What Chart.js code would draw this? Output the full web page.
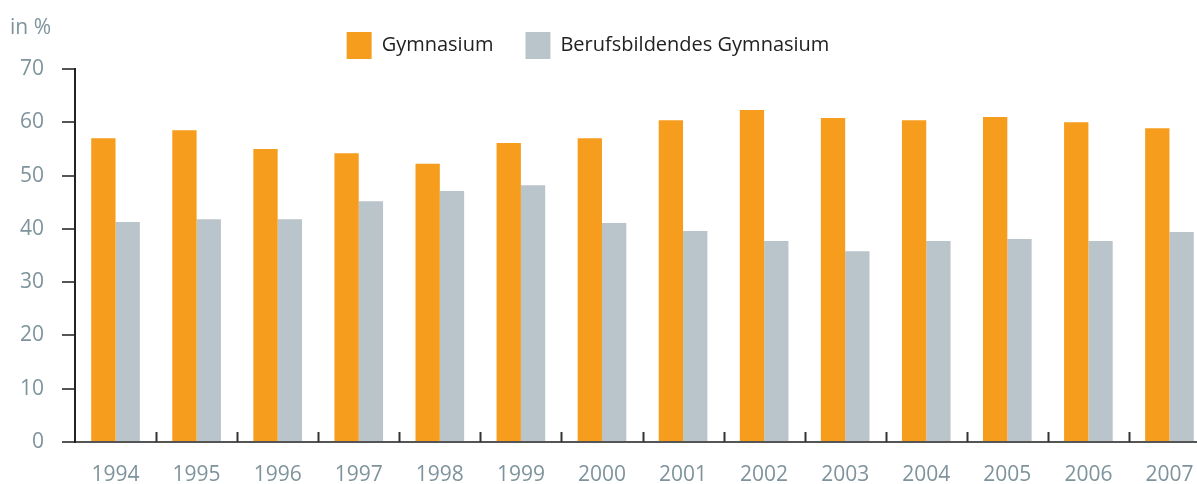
<!DOCTYPE html>
<html>
<head>
<meta charset="utf-8">
<script src="https://cdn.jsdelivr.net/npm/chart.js@4"></script>
<style>
    body { margin: 0; overflow: hidden; background: #fff; }
    #wrap { position: relative; width: 1210px; height: 484px; }
    #einheit { position: absolute; left: 10px; top: 12px; font: 21px "Open Sans", sans-serif; color: #7e939c; }
</style>
</head>
<body>
<div id="wrap">
    <div id="einheit">in %</div>
    <canvas id="grafico" width="1210" height="484"></canvas>
</div>
<script>
const jahre = ['1994', '1995', '1996', '1997', '1998', '1999', '2000', '2001', '2002', '2003', '2004', '2005', '2006', '2007'];
const gymnasium = [57.0, 58.5, 55.0, 54.2, 52.2, 56.1, 57.0, 60.4, 62.3, 60.8, 60.4, 61.0, 60.0, 58.9];
const berufsGymnasium = [41.3, 41.8, 41.8, 45.2, 47.1, 48.2, 41.1, 39.6, 37.7, 35.8, 37.7, 38.1, 37.7, 39.4];
const yTicks = [0, 10, 20, 30, 40, 50, 60, 70];

const corCinza = '#7e939c';

// kleine Striche zwischen den Jahren, nach oben
const strichePlugin = {
    id: 'striche',
    afterDatasetsDraw(chart) {
        const x = chart.scales.x;
        const ctx = chart.ctx;
        const unten = chart.chartArea.bottom;
        ctx.save();
        ctx.strokeStyle = '#333';
        ctx.lineWidth = 2;
        for (let i = 0; i < jahre.length - 1; i++) {
            let meio = (x.getPixelForValue(i) + x.getPixelForValue(i + 1)) / 2;
            ctx.beginPath();
            ctx.moveTo(Math.round(meio) + 0.5, unten - 10);
            ctx.lineTo(Math.round(meio) + 0.5, unten);
            ctx.stroke();
        }
        ctx.restore();
    }
};

// feste Hoehe fuer die Legende, etwas nach links geschoben
const legendeHoehe = {
    id: 'legendeHoehe',
    beforeLayout(chart) {
        if (chart.legend && !chart.legend._gepatcht) {
            const fitOriginal = chart.legend.fit;
            chart.legend.fit = function () {
                fitOriginal.call(this);
                this.height = 69;
            };
            chart.legend._gepatcht = true;
        }
    },
    afterLayout(chart) {
        if (chart.legend) {
            chart.legend.right = chart.legend.right - 34;
        }
    }
};

new Chart(document.getElementById('grafico'), {
    type: 'bar',
    data: {
        labels: jahre,
        datasets: [
            {
                label: 'Gymnasium',
                data: gymnasium,
                backgroundColor: '#f79d1e',
                categoryPercentage: 0.6,
                barPercentage: 1.0
            },
            {
                label: 'Berufsbildendes Gymnasium',
                data: berufsGymnasium,
                backgroundColor: '#bac5cb',
                categoryPercentage: 0.6,
                barPercentage: 1.0
            }
        ]
    },
    options: {
        responsive: false,
        animation: false,
        layout: { padding: 0 },
        plugins: {
            legend: {
                position: 'top',
                labels: {
                    boxWidth: 25,
                    boxHeight: 27,
                    padding: 32,
                    color: '#222',
                    font: { family: 'Open Sans', size: 20 }
                }
            },
            tooltip: { enabled: false }
        },
        scales: {
            x: {
                grid: { display: false },
                border: { display: true, color: '#555', width: 2 },
                ticks: {
                    color: corCinza,
                    padding: 12,
                    maxRotation: 0,
                    font: { family: 'Open Sans', size: 21 }
                },
                afterFit(scale) { scale.height = 42; }
            },
            y: {
                min: 0,
                max: 70,
                afterBuildTicks(scale) {
                    scale.ticks = yTicks.map(v => ({ value: v }));
                },
                grid: {
                    drawOnChartArea: false,
                    drawTicks: true,
                    tickLength: 13,
                    color: '#555',
                    lineWidth: 2
                },
                border: { display: true, color: '#222', width: 2 },
                ticks: {
                    color: corCinza,
                    padding: 18,
                    font: { family: 'Open Sans', size: 21 }
                },
                afterFit(scale) { scale.width = 75; }
            }
        }
    },
    plugins: [strichePlugin, legendeHoehe]
});
</script>
</body>
</html>
